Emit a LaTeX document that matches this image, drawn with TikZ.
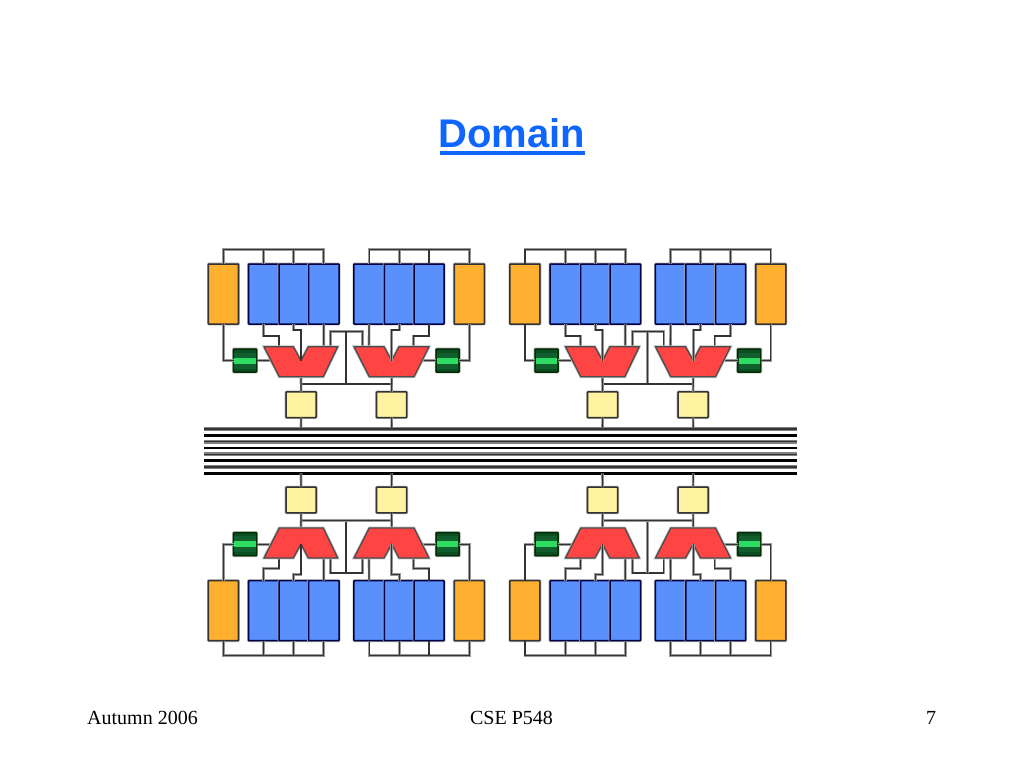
\documentclass[tikz,border=0pt]{standalone}
\usepackage{fontspec}
\setmainfont{Liberation Serif}
\newfontfamily\titlefont{Liberation Sans}
\definecolor{blueblock}{HTML}{5A90FC}
\definecolor{orangeblock}{HTML}{FFB030}
\definecolor{redblock}{HTML}{FF4444}
\definecolor{yellowblock}{HTML}{FFF2A0}
\definecolor{greendark}{HTML}{0B4F25}
\definecolor{greenmid}{HTML}{125F2E}
\definecolor{greenlight}{HTML}{2EDC64}
\definecolor{titleblue}{HTML}{0F66FF}
\tikzset{
  halo/.style={preaction={draw=black!35,line width=2.8pt}},
  block/.style={draw=black!80,line width=1.5pt,inner sep=0pt,outer sep=0pt,rounded corners=0.6pt,halo},
  bluebox/.style={block,fill=blueblock,draw=black!70!blue!90!black,minimum width=#1,minimum height=60pt},
  orangebox/.style={block,fill=orangeblock,minimum width=30pt,minimum height=60pt},
  yellowbox/.style={block,fill=yellowblock,minimum width=30pt,minimum height=25.6pt},
  greenbox/.style={block,draw=black!55!green!40!black,fill=greendark,minimum width=23pt,minimum height=23pt},
  wire/.style={draw=black!80,line width=1.2pt,preaction={draw=black!40,line width=2.6pt}},
  redshape/.style={fill=redblock,draw=black!70,line width=1.3pt,line join=round,preaction={draw=black!25,line width=2.8pt}},
  stripe/.style={fill=greenlight},
  graybus/.style={draw=black!50,line width=3.8pt,postaction={draw=black!80,line width=1.4pt}},
  blackbus/.style={draw=black,line width=2.7pt},
  foot/.style={inner sep=0pt,anchor=base,font=\fontsize{20}{20}\selectfont}
}
% #1 prefix, #2 x shift, #3 y shift, #4 y scale, #5 anchor towards the outer edge,
% #6 anchor towards the bus, #7 local y where the bus begins
\newcommand{\domainquad}[7]{%
\begin{scope}[shift={(#2,#3)},yscale=#4]
  \coordinate (#1tl) at (279,346.7);
  \coordinate (#1apexL) at (301,360.7);
  \coordinate (#1tr) at (323.7,346.7);
  \coordinate (#1cL) at (330.7,346.7);
  \coordinate (#1cR) at (362.3,346.7);
  \coordinate (#1cM) at (346,331.7);
  \coordinate (#1jM) at (346,384);
  \coordinate (#1jL) at (301,384);
  \coordinate (#1jR) at (391.7,384);
  \coordinate (#1bL) at (301,376.7);
  \coordinate (#1bR) at (391.7,376.7);
  \coordinate (#1apexR) at (391.7,360.7);
  \coordinate (#1sl) at (369,346.7);
  \coordinate (#1sr) at (413.3,346.7);
  \coordinate (#1gLend) at (271.5,360.5);
  \coordinate (#1gRend) at (421,360.5);
  \coordinate (#1busL) at (301,#7);
  \coordinate (#1busR) at (391.7,#7);
  \node[orangebox] (#1oL) at (223.4,294) {};
  \node[orangebox] (#1oR) at (469.3,294) {};
  \node[bluebox=30.5pt] (#1a1) at (263.75,294) {};
  \node[bluebox=29.5pt] (#1a2) at (293.75,294) {};
  \node[bluebox=30.5pt] (#1a3) at (323.75,294) {};
  \node[bluebox=30.3pt] (#1c1) at (369.1,294) {};
  \node[bluebox=29.7pt] (#1c2) at (399.2,294) {};
  \node[bluebox=30pt] (#1c3) at (429,294) {};
  \node[greenbox] (#1gL) at (245,360.5) {};
  \node[greenbox] (#1gR) at (447.7,360.5) {};
  \node[yellowbox] (#1yL) at (301.1,404.7) {};
  \node[yellowbox] (#1yR) at (391.6,404.7) {};
  % wires
  \draw[wire] (#1oL.#5) -- ++(0,-14.5) -| (#1a3.#5);
  \draw[wire] (#1a1.#5) -- ++(0,-14.5);
  \draw[wire] (#1a2.#5) -- ++(0,-14.5);
  \draw[wire] (#1oR.#5) -- ++(0,-14.5) -| (#1c1.#5);
  \draw[wire] (#1c2.#5) -- ++(0,-14.5);
  \draw[wire] (#1c3.#5) -- ++(0,-14.5);
  \draw[wire] (#1a1.#6) -- ++(0,12) -| (#1tl);
  \draw[wire] (#1a2.#6) -- ++(0,6) -| (#1apexL);
  \draw[wire] (#1a3.#6) -- (#1tr);
  \draw[wire] (#1c1.#6) -- (#1sl);
  \draw[wire] (#1c2.#6) -- ++(0,6) -| (#1apexR);
  \draw[wire] (#1c3.#6) -- ++(0,12) -| (#1sr);
  \draw[wire] (#1oL.#6) |- (#1gL.west);
  \draw[wire] (#1oR.#6) |- (#1gR.east);
  \draw[wire] (#1gL.east) -- (#1gLend);
  \draw[wire] (#1gR.west) -- (#1gRend);
  \draw[wire] (#1cL) |- (#1cM) -| (#1cR);
  \draw[wire] (#1cM) -- (#1jM);
  \draw[wire] (#1jL) -- (#1jR);
  \draw[wire] (#1bL) -- (#1yL.#5);
  \draw[wire] (#1bR) -- (#1yR.#5);
  \draw[wire] (#1yL.#6) -- (#1busL);
  \draw[wire] (#1yR.#6) -- (#1busR);
  % steering shapes
  \draw[redshape] (264,346.7) -- (293.3,346.7) -- (#1apexL) -- (308.3,346.7) -- (337.7,346.7)
     -- (323.3,376.7) -- (279.3,376.7) -- cycle;
  \draw[redshape] (354,346.7) -- (384,346.7) -- (#1apexR) -- (399,346.7) -- (429,346.7)
     -- (414,376.7) -- (369.3,376.7) -- cycle;
  \draw[wire] (#1apexL) -- ++(0,-14);
  \draw[wire] (#1apexR) -- ++(0,-14);
  % register stripes
  \fill[greenmid] ([shift={(-10.7,-8)}]#1gL.center) rectangle ([shift={(10.7,8)}]#1gL.center);
  \fill[greenmid] ([shift={(-10.7,-8)}]#1gR.center) rectangle ([shift={(10.7,8)}]#1gR.center);
  \fill[stripe] ([shift={(-10.7,-2.6)}]#1gL.center) rectangle ([shift={(10.7,3.4)}]#1gL.center);
  \fill[stripe] ([shift={(-10.7,-2.6)}]#1gR.center) rectangle ([shift={(10.7,3.4)}]#1gR.center);
\end{scope}}
\begin{document}
\begin{tikzpicture}[x=1pt,y=-1pt]
  \useasboundingbox (0,0) rectangle (1024,768);
  \fill[white] (0,0) rectangle (1024,768);
  % title
  \node[inner sep=0pt,anchor=base,text=titleblue,font=\titlefont\bfseries\fontsize{40}{40}\selectfont] (title) at (512,147) {Domain};
  \coordinate (ulL) at (439.5,153);
  \coordinate (ulR) at (584.5,153);
  \draw[titleblue,line width=3.6pt] (ulL) -- (ulR);
  % bus
  \foreach \yy in {429,441.7,454.3,467} {\draw[graybus] (204,\yy) -- (797,\yy);}
  \foreach \yy in {435.3,448,460.7,473.3} {\draw[blackbus] (204,\yy) -- (797,\yy);}
  % four quadrants
  \domainquad{A}{0}{0}{1}{north}{south}{428}
  \domainquad{B}{301.5}{0}{1}{north}{south}{428}
  \domainquad{C}{0}{904.7}{-1}{south}{north}{431.4}
  \domainquad{D}{301.5}{904.7}{-1}{south}{north}{431.4}
  % footer
  \node[foot,anchor=base west] (fl) at (87,724) {Autumn 2006};
  \node[foot] (fm) at (511.5,724) {CSE P548};
  \node[foot] (fr) at (931,724) {7};
\end{tikzpicture}
\end{document}
